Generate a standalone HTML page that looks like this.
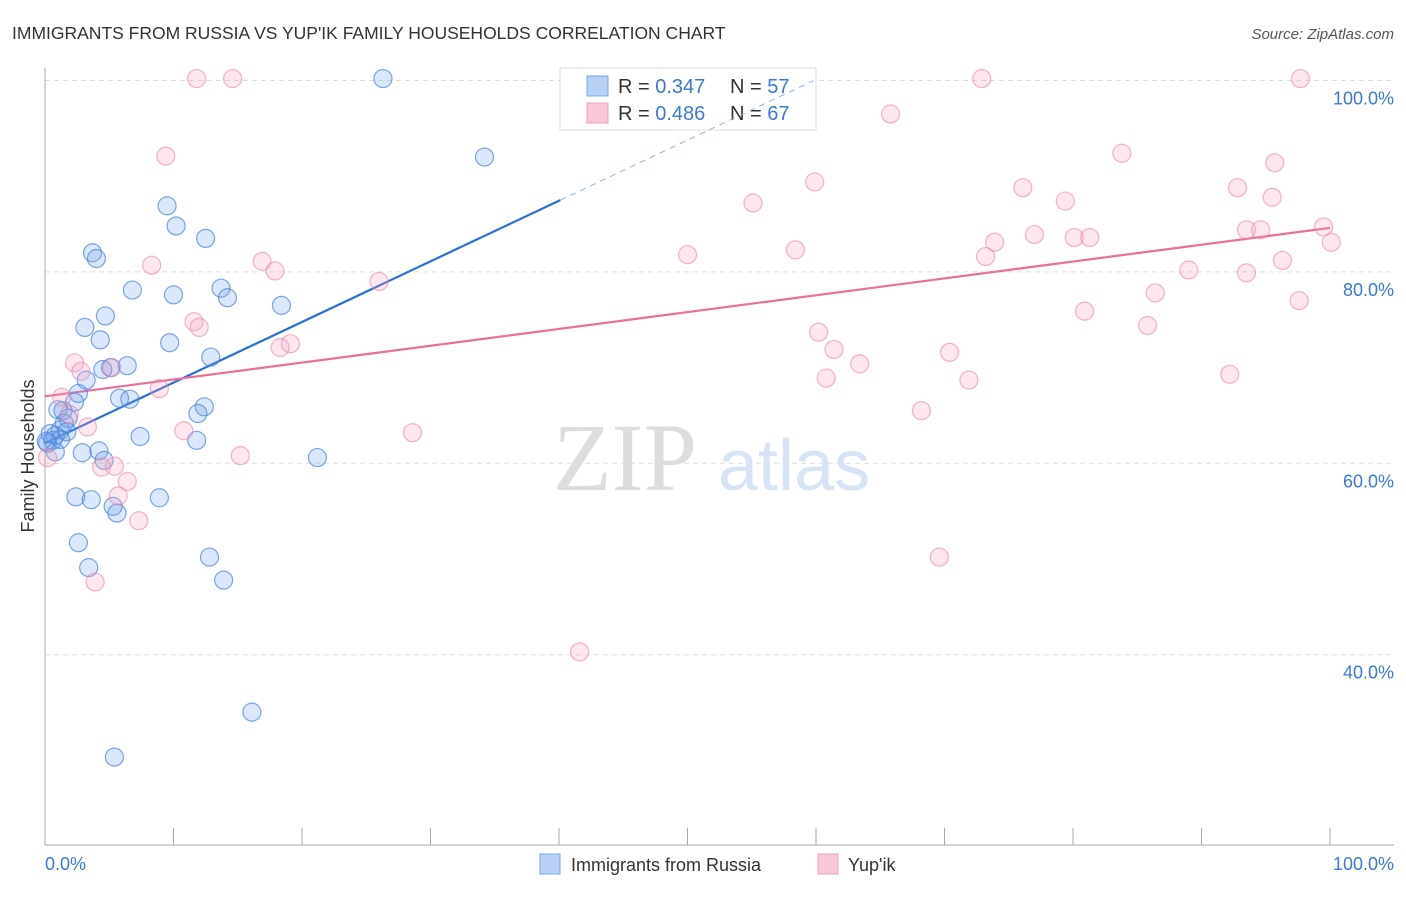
<!DOCTYPE html>
<html><head><meta charset="utf-8"><style>
body{margin:0;background:#fff;font-family:"Liberation Sans",sans-serif}
</style></head><body>
<svg id="c" width="1406" height="892" xmlns="http://www.w3.org/2000/svg" style="font-family:'Liberation Sans',sans-serif">
<text x="12" y="39" font-size="17.5" fill="#333">IMMIGRANTS FROM RUSSIA VS YUP'IK FAMILY HOUSEHOLDS CORRELATION CHART</text>
<text x="1394" y="39" font-size="15" fill="#555" font-style="italic" text-anchor="end">Source: ZipAtlas.com</text>
<g>
<text x="553" y="490" font-size="96" fill="#ddd" font-family="Liberation Serif,serif">ZIP</text>
<text x="718" y="490" font-size="72" fill="#d6e4f5">atlas</text>
</g>
<g id="grid"></g><g id="axes"></g>
<g>
<rect x="560" y="68" width="256" height="62" fill="#fff" stroke="#ddd"/>
<rect x="587" y="76" width="21" height="20" fill="#b7d0f4" stroke="#7aa6e6"/>
<rect x="587" y="103" width="21" height="20" fill="#f9c7d6" stroke="#eea3bb"/>
<text x="618" y="93" font-size="20" fill="#333">R = <tspan fill="#3b78d8">0.347</tspan><tspan x="730">N = </tspan><tspan fill="#3b78d8">57</tspan></text>
<text x="618" y="120" font-size="20" fill="#333">R = <tspan fill="#3b78d8">0.486</tspan><tspan x="730">N = </tspan><tspan fill="#3b78d8">67</tspan></text>
</g>
<g id="trend"></g><g id="pts"></g>
<text transform="translate(34,456) rotate(-90)" font-size="18" fill="#333" text-anchor="middle">Family Households</text>
<text x="45" y="870" font-size="18" fill="#3b78d8">0.0%</text>
<text x="1394" y="870" font-size="18" fill="#3b78d8" text-anchor="end">100.0%</text>
<g>
<rect x="540" y="854" width="20" height="20" fill="#b7d0f4" stroke="#7aa6e6"/>
<text x="571" y="871" font-size="18" fill="#333">Immigrants from Russia</text>
<rect x="818" y="854" width="20" height="20" fill="#f9c7d6" stroke="#eea3bb"/>
<text x="848" y="871" font-size="18" fill="#333">Yup'ik</text>
</g>
</svg>
<script>
const yTicks=[100,80,60,40];
const yTickLabels=["100.0%","80.0%","60.0%","40.0%"];
const xTicks=[0,10,20,30,40,50,60,70,80,90,100];
const russiaX=[26.3,34.2,9.5,10.2,12.5,3.7,4.0,6.8,10.0,13.7,14.2,18.4,4.7,3.1,4.3,9.7,12.9,6.4,5.1,4.5,3.2,2.6,5.8,6.6,2.3,12.4,11.9,1.0,1.8,1.5,1.2,1.7,0.8,0.6,0.2,0.8,7.4,11.8,2.9,4.2,4.6,21.2,2.4,3.6,8.9,5.3,5.6,2.6,12.8,3.4,13.9,16.1,5.4,0.4,1.2,0.1,1.4];
const russiaY=[100.2,92.0,86.9,84.8,83.5,82.0,81.4,78.1,77.6,78.3,77.3,76.5,75.4,74.2,72.9,72.6,71.1,70.2,70.0,69.8,68.7,67.3,66.8,66.7,66.4,65.9,65.2,65.6,64.7,64.2,63.5,63.3,62.9,62.4,62.1,61.2,62.8,62.4,61.1,61.3,60.3,60.6,56.5,56.2,56.4,55.5,54.8,51.7,50.2,49.1,47.8,34.0,29.3,63.1,62.5,62.3,65.5];
const yupikX=[11.8,14.6,72.9,97.7,65.8,9.4,83.8,95.7,59.9,76.1,92.8,79.4,95.5,55.1,99.5,93.5,94.6,100.1,73.9,77.0,80.1,81.3,73.2,50.0,58.4,8.3,16.9,17.9,96.3,89.0,93.5,26.0,86.4,97.6,80.9,11.6,12.0,85.8,60.2,18.3,19.1,61.4,70.4,63.4,2.3,2.8,5.2,60.8,71.9,92.2,8.9,1.3,1.9,68.2,10.8,3.3,28.6,15.2,0.2,4.4,5.4,6.4,5.7,7.3,69.6,3.9,41.6];
const yupikY=[100.2,100.2,100.2,100.2,96.5,92.1,92.4,91.4,89.4,88.8,88.8,87.4,87.8,87.2,84.7,84.4,84.4,83.1,83.1,83.9,83.6,83.6,81.6,81.8,82.3,80.7,81.1,80.1,81.2,80.2,79.9,79.0,77.8,77.0,75.9,74.8,74.2,74.4,73.7,72.1,72.5,71.9,71.6,70.4,70.5,69.6,70.0,68.9,68.7,69.3,67.8,66.9,65.1,65.5,63.4,63.8,63.2,60.8,60.6,59.6,59.7,58.1,56.6,54.0,50.2,47.6,40.3];
const russiaTrend=[0,62.1,40.1,87.5,59.8];
const yupikTrend=[0,67.0,100,84.6];
const NS="http://www.w3.org/2000/svg";
const X=v=>45+v*12.85, Y=v=>80.5+(100-v)*9.57;
function mk(t,a,p){const e=document.createElementNS(NS,t);for(const k in a)e.setAttribute(k,a[k]);document.getElementById(p).appendChild(e);return e;}
yTicks.forEach((t,i)=>{
 const l=mk('line',{x1:45,x2:1394,y1:Y(t),y2:Y(t),stroke:'#ddd','stroke-dasharray':'5,4'},'grid');
 
 
 const tx=mk('text',{x:1394,y:Y(t)+24,'font-size':18,fill:'#3b78d8','text-anchor':'end'},'grid');
 tx.textContent=yTickLabels[i];
 
 
});
const ya=mk('line',{x1:45,x2:45,y1:68,y2:845,stroke:'#aaa'},'axes');


const xa=mk('line',{x1:45,x2:1394,y1:845,y2:845,stroke:'#aaa'},'axes');


xTicks.forEach(t=>{
 const l=mk('line',{x1:X(t),x2:X(t),y1:828,y2:845,stroke:'#aaa'},'axes');
 
 
});
function pts(xs,ys,fill,stroke,name){
 xs.forEach((x,i)=>{
  const c=mk('circle',{cx:X(x),cy:Y(ys[i]),r:9,fill:fill,stroke:stroke,'stroke-width':1.2},'pts');
  
  
 });
}
pts(russiaX,russiaY,'rgba(110,160,235,0.25)','rgba(70,130,220,0.7)','russia-point');
pts(yupikX,yupikY,'rgba(245,160,190,0.25)','rgba(235,130,165,0.6)','yupik-point');
const rs=(russiaTrend[3]-russiaTrend[1])/(russiaTrend[2]-russiaTrend[0]);
let l=mk('line',{x1:X(russiaTrend[0]),y1:Y(russiaTrend[1]),x2:X(russiaTrend[2]),y2:Y(russiaTrend[3]),stroke:'#2a6fd6','stroke-width':2.2},'trend');


l=mk('line',{x1:X(russiaTrend[2]),y1:Y(russiaTrend[3]),x2:X(russiaTrend[4]),y2:Y(russiaTrend[1]+rs*russiaTrend[4]),stroke:'#8fb3ea','stroke-width':1,'stroke-dasharray':'6,5'},'trend');


l=mk('line',{x1:X(yupikTrend[0]),y1:Y(yupikTrend[1]),x2:X(yupikTrend[2]),y2:Y(yupikTrend[3]),stroke:'#e8709a','stroke-width':2.2},'trend');


</script>
</body></html>
